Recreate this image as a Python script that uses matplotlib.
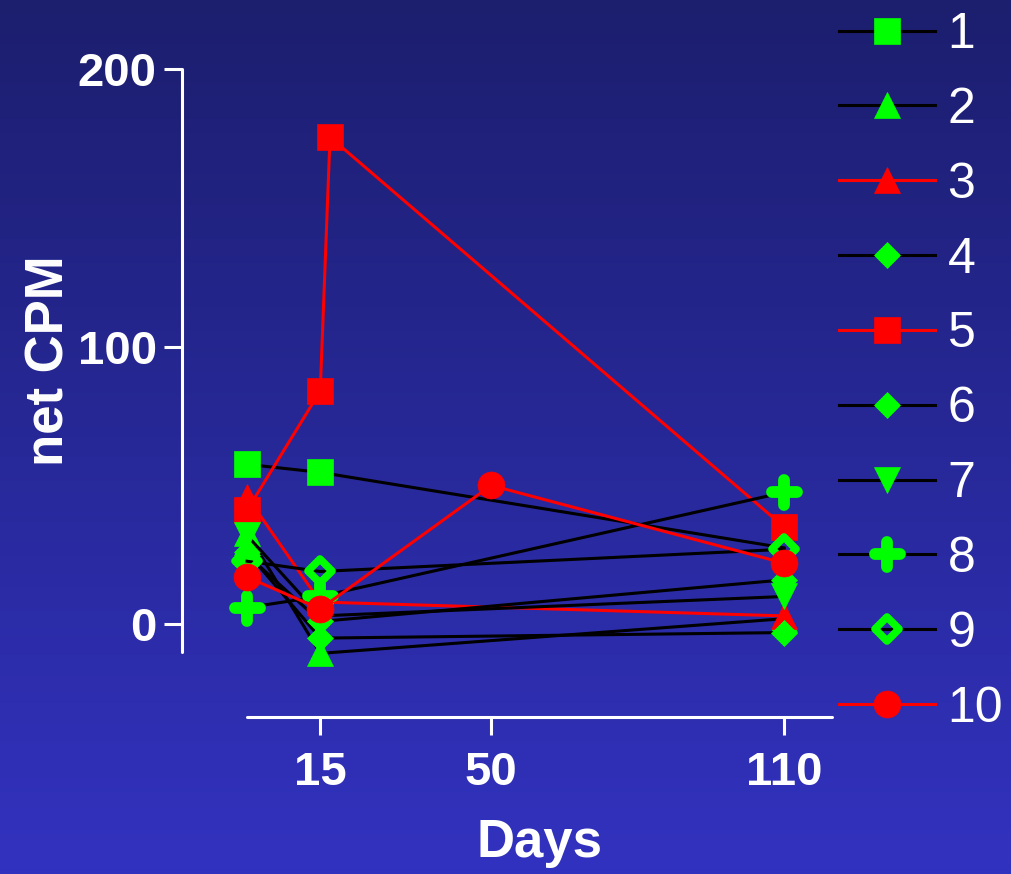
import numpy as np
import matplotlib
matplotlib.use("Agg")
import matplotlib.pyplot as plt
from matplotlib.markers import MarkerStyle

plt.rcParams['font.family'] = ['Liberation Sans', 'DejaVu Sans']

# ---- data ----
days_std = [0, 15, 110]
days_5 = [0, 15, 17, 110]
days_10 = [0, 15, 50, 110]

s1 = [57.6, 54.7, 27.5]
s2 = [33, -10.5, 2]
s3 = [46, 8, 3]
s4 = [26, -5, -3]
s5 = [41, 84, 175.5, 35]
s6 = [25, 1, 16]
s7 = [32, 3, 10]
s8 = [6, 10, 47.5]
s9 = [22.7, 19, 27]
s10 = [17, 5.5, 50, 22]

labels = ['1', '2', '3', '4', '5', '6', '7', '8', '9', '10']
x_ticks = [15, 50, 110]
y_ticks = [0, 100, 200]

W, H, DPI = 1011, 874, 100
fig = plt.figure(figsize=(W / DPI, H / DPI), dpi=DPI)

# background gradient
bg = fig.add_axes([0, 0, 1, 1], zorder=-10)
top = np.array([28, 30, 110]) / 255
bot = np.array([50, 50, 192]) / 255
t = np.linspace(0, 1, 256)[:, None]
grad = top[None, None, :] * (1 - t[..., None]) + bot[None, None, :] * t[..., None]
grad = np.repeat(grad, 2, axis=1)
bg.imshow(grad, aspect='auto', extent=[0, 1, 0, 1])
bg.set_axis_off()

ax = fig.add_axes([247 / W, 1 - 652 / H, (832 - 247) / W, (652 - 69) / H])
ax.set_facecolor('none')

GREEN = '#00FF00'
RED = '#FF0000'
lw = 2.2
msq = 19.4
mdi = 13.7

plus = MarkerStyle('+', capstyle='round')
hollowD = MarkerStyle('D', fillstyle='none', joinstyle='round')

common = dict(lw=lw, clip_on=False)
ax.plot(days_std, s1, color='black', marker='s', ms=msq, mfc=GREEN, mec=GREEN, mew=0.5, markevery=[0, 1], label=labels[0], **common)
ax.plot(days_std, s2, color='black', marker='^', ms=msq, mfc=GREEN, mec=GREEN, mew=0.5, label=labels[1], **common)
ax.plot(days_std, s3, color=RED, marker='^', ms=msq, mfc=RED, mec=RED, mew=0.5, label=labels[2], **common)
ax.plot(days_std, s4, color='black', marker='D', ms=mdi, mfc=GREEN, mec=GREEN, mew=0.5, label=labels[3], **common)
ax.plot(days_5, s5, color=RED, marker='s', ms=msq, mfc=RED, mec=RED, mew=0.5, label=labels[4], **common)
ax.plot(days_std, s6, color='black', marker='D', ms=mdi, mfc=GREEN, mec=GREEN, mew=0.5, label=labels[5], **common)
ax.plot(days_std, s7, color='black', marker='v', ms=msq, mfc=GREEN, mec=GREEN, mew=0.5, label=labels[6], **common)
ax.plot(days_std, s8, color='black', marker=plus, ms=18, mec=GREEN, mew=8.5, label=labels[7], **common)
ax.plot(days_std, s9, color='black', marker=hollowD, ms=12.5, mec=GREEN, mew=5.5, label=labels[8], **common)
ax.plot(days_10, s10, color=RED, marker='o', ms=msq, mfc=RED, mec=RED, mew=0.5, label=labels[9], **common)

ax.set_xlim(0, 119.8)
ax.set_ylim(-10, 200)
for side in ['top', 'right']:
    ax.spines[side].set_visible(False)
for side in ['left', 'bottom']:
    ax.spines[side].set_color('white')
    ax.spines[side].set_linewidth(2.2)
    ax.spines[side].set_position(('outward', 47))
    ax.spines[side].set_capstyle('round')

ax.set_xticks(x_ticks)
ax.set_yticks(y_ticks)
ax.tick_params(axis='both', colors='white', length=13, width=2.2, direction='out')
ax.tick_params(axis='y', pad=5, labelsize=34)
ax.tick_params(axis='x', pad=11, labelsize=34)
for lab in ax.get_xticklabels() + ax.get_yticklabels():
    lab.set_fontweight('bold')
    lab.set_color('white')

ax.set_xlabel('Days', fontsize=38, fontweight='bold', color='white', labelpad=17)
ax.set_ylabel('net CPM', fontsize=38, fontweight='bold', color='white', labelpad=2)

leg = fig.legend(loc='upper left', bbox_to_anchor=(839 / W, 1 - 12 / H),
                 frameon=False, fontsize=36, handlelength=1.92, handletextpad=0.25,
                 labelspacing=0.577, borderpad=0, borderaxespad=0, numpoints=1)
for txt in leg.get_texts():
    txt.set_color('white')

fig.savefig('out.png', dpi=DPI)
